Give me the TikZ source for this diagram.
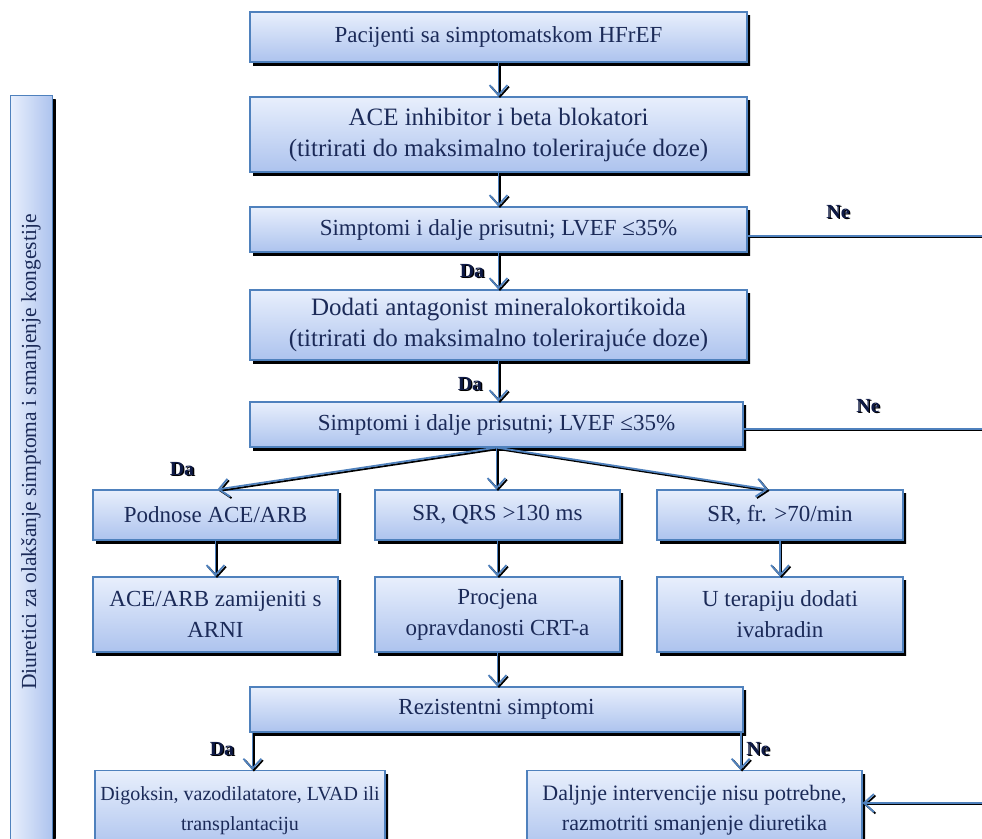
\documentclass[tikz,border=0pt]{standalone}
\usepackage{fontspec}
\setmainfont{Liberation Serif}
\usetikzlibrary{shadows,arrows.meta}
\definecolor{bt}{HTML}{E8EFFC}
\definecolor{bb}{HTML}{ADC3EE}
\definecolor{bd}{HTML}{4F81BD}
\definecolor{tx}{HTML}{1B2A58}
\definecolor{lab}{HTML}{0E1A46}
\tikzset{
 box/.style={draw=bd, line width=1.2pt, top color=bt, bottom color=bb, text=tx,
   font=\fontsize{23}{31}\selectfont, align=center, inner sep=0pt,
   drop shadow={shadow xshift=3pt, shadow yshift=-3.5pt, top color=black, bottom color=black, draw=none, opacity=1}},
 sidebox/.style={draw=bd, line width=1.2pt, left color=bt, right color=bb, text=tx,
   inner sep=0pt, drop shadow={shadow xshift=3pt, shadow yshift=-3.5pt, left color=black, right color=black, draw=none, opacity=1}},
 arr/.style={draw=bd, line width=1.8pt, -{Straight Barb[length=10pt,width=18pt,line width=1.8pt]},
   preaction={draw=black, line width=1.8pt, transform canvas={shift={(1.5pt,-1.5pt)}}}},
 ln/.style={draw=bd, line width=1.8pt,
   preaction={draw=black, line width=1.8pt, transform canvas={shift={(1.5pt,-1.5pt)}}}},
 lbl/.style={font=\bfseries\fontsize{20}{20}\selectfont, text=lab},
 lblsh/.style={font=\bfseries\fontsize{20}{20}\selectfont, text=black}
}
\newcommand{\yesno}[3]{%
  \node[lblsh] at ([shift={(1.3,1.3)}]#2) {#3};
  \node[lbl] (#1) at (#2) {#3};}
\begin{document}
\begin{tikzpicture}[x=1pt,y=-1pt]
\useasboundingbox[fill=white] (0,0) rectangle (982,838);
% sidebar
\node[sidebox, minimum width=42, minimum height=760, anchor=north west] (side) at (10,95) {};
\node[rotate=90, text=tx, font=\fontsize{21.5}{21.5}\selectfont] (sidetext) at (31,452) {Diuretici za olakšanje simptoma i smanjenje kongestije};
% main column
\node[box, minimum width=497, minimum height=50] (b1) at (498.5,37) {Pacijenti sa simptomatskom HFrEF};
\node[box, minimum width=497, minimum height=75, font=\fontsize{25}{31}\selectfont] (b2) at (498.5,134.5) {ACE inhibitor i beta blokatori\\(titrirati do maksimalno tolerirajuće doze)};
\node[box, minimum width=497, minimum height=45] (b3) at (498.5,229.5) {Simptomi i dalje prisutni; LVEF ≤35\%};
\node[box, minimum width=497, minimum height=70, font=\fontsize{25}{31}\selectfont] (b4) at (498.5,325) {Dodati antagonist mineralokortikoida\\(titrirati do maksimalno tolerirajuće doze)};
\node[box, minimum width=493, minimum height=45] (b5) at (496.5,424.5) {Simptomi i dalje prisutni; LVEF ≤35\%};
\node[box, minimum width=245, minimum height=50] (b6) at (215.5,515) {Podnose ACE/ARB};
\node[box, minimum width=245, minimum height=50] (b7) at (497.5,515) {SR, QRS >130 ms};
\node[box, minimum width=246, minimum height=50] (b8) at (780,515) {SR, fr. >70/min};
\node[box, minimum width=245, minimum height=75] (b9) at (215.5,614.5) {ACE/ARB zamijeniti s\\ARNI};
\node[box, minimum width=245, minimum height=75] (b10) at (497.5,614.5) {Procjena\\opravdanosti CRT-a};
\node[box, minimum width=246, minimum height=75] (b11) at (780,614.5) {U terapiju dodati\\ivabradin};
\node[box, minimum width=493, minimum height=45] (b12) at (496.5,709.5) {Rezistentni simptomi};
\node[box, minimum width=290, minimum height=80, anchor=north, font=\fontsize{20}{30}\selectfont] (b13) at (240,770) {Digoksin, vazodilatatore, LVAD ili\\transplantaciju};
\node[box, minimum width=335, minimum height=80, anchor=north, font=\fontsize{22}{30}\selectfont] (b14) at (694.5,770) {Daljnje intervencije nisu potrebne,\\razmotriti smanjenje diuretika};
% off-picture ends
\coordinate (r3) at (990,236);
\coordinate (r5) at (990,429);
\coordinate (r14) at (990,803);
% connectors
\draw[arr] (b1) -- (b2);
\draw[arr] (b2) -- (b3);
\draw[arr] (b3) -- (b4);
\draw[arr] (b4) -- (b5.north -| b4);
\draw[ln] (b3.east |- r3) -- (r3);
\draw[ln] (b5.east |- r5) -- (r5);
\draw[arr] (b5.south) -- ([xshift=2pt]b6.north);
\draw[arr] (b5.south) -- (b7.north -| b5.south);
\draw[arr] (b5.south) -- ([xshift=-12pt]b8.north);
\draw[arr] (b6) -- (b9);
\draw[arr] (b7) -- (b10);
\draw[arr] (b8) -- (b11);
\draw[arr] (b10.south) -- (b12.north -| b10.south);
\draw[arr] ([xshift=3pt]b12.south west) -- ([xshift=3pt]b12.south west |- b13.north);
\draw[arr] ([xshift=-3pt]b12.south east) -- ([xshift=-3pt]b12.south east |- b14.north);
\draw[arr] (r14) -- (b14.east |- r14);
% labels
\yesno{ne1}{838,212}{Ne}
\yesno{da1}{472,271}{Da}
\yesno{da2}{470,384}{Da}
\yesno{ne2}{868,406}{Ne}
\yesno{da3}{182,469}{Da}
\yesno{da4}{222,749}{Da}
\yesno{ne3}{758,749}{Ne}
\end{tikzpicture}
\end{document}
